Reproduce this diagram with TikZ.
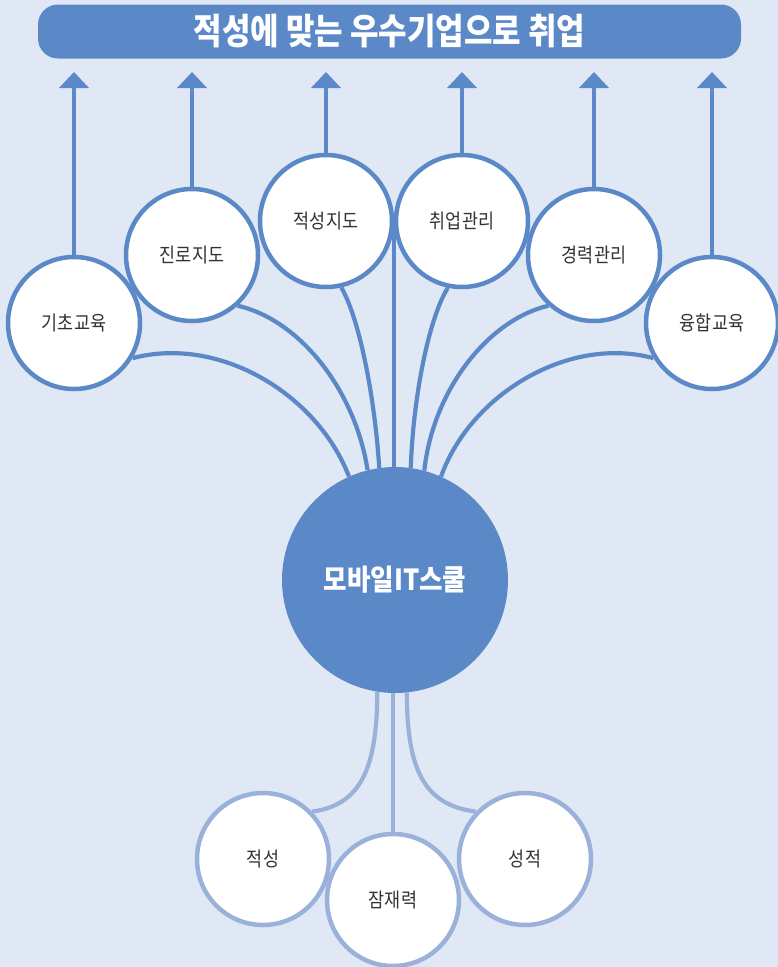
\documentclass[tikz,border=0pt]{standalone}
\usepackage{fontspec}
\usepackage{graphicx}
\newfontfamily\kr{Noto Sans CJK KR}
\usetikzlibrary{arrows.meta,backgrounds}
\definecolor{bgc}{HTML}{E1E8F5}
\definecolor{mainblue}{HTML}{5B88C6}
\definecolor{lightblue}{HTML}{9AB1DA}
\definecolor{txt}{HTML}{333333}
\begin{document}
\begin{tikzpicture}[x=1pt,y=-1pt,
  kcircle/.style={circle, draw=mainblue, line width=4.5pt, fill=white, minimum size=132pt, inner sep=0pt, font=\kr\fontsize{20}{20}\selectfont, text=txt},
  bcircle/.style={kcircle, draw=lightblue},
  conn/.style={draw=mainblue, line width=4.2pt},
  bconn/.style={draw=lightblue, line width=4.2pt},
  uparr/.style={conn, -{Triangle[length=16pt,width=29pt]}},
  bigcircle/.style={circle, fill=mainblue, minimum size=226pt, inner sep=0pt, text=white, font=\kr\bfseries\fontsize{29}{29}\selectfont},
  bannerbox/.style={fill=mainblue, rounded corners=20pt, minimum width=703pt, minimum height=54pt, inner sep=0pt, text=white, font=\kr\bfseries\fontsize{36}{36}\selectfont}
]
\useasboundingbox (0,0) rectangle (778,967);

% banner
\node[bannerbox] (banner) at (389.5,31.5) {\scalebox{0.86}[1]{적성에 맞는 우수기업으로 취업}};

% top circles
\node[kcircle] (k1) at (74,323) {\scalebox{0.87}[1]{기초교육}};
\node[kcircle] (k2) at (192,255) {\scalebox{0.87}[1]{진로지도}};
\node[kcircle] (k3) at (326,221) {\scalebox{0.87}[1]{적성지도}};
\node[kcircle] (k4) at (462,221) {\scalebox{0.87}[1]{취업관리}};
\node[kcircle] (k5) at (594,255) {\scalebox{0.87}[1]{경력관리}};
\node[kcircle] (k6) at (712,323) {\scalebox{0.87}[1]{융합교육}};

% central circle
\node[bigcircle] (big) at (395,580) {\scalebox{0.88}[1]{모바일IT스쿨}};

% bottom circles
\node[bcircle] (b1) at (263,859) {\scalebox{0.87}[1]{적성}};
\node[bcircle] (b2) at (393,900) {\scalebox{0.87}[1]{잠재력}};
\node[bcircle] (b3) at (525,859) {\scalebox{0.87}[1]{성적}};

% arrows to banner
\coordinate (top) at (0,72);
\draw[uparr] (k1.north) -- (k1.north |- top);
\draw[uparr] (k2.north) -- (k2.north |- top);
\draw[uparr] (k3.north) -- (k3.north |- top);
\draw[uparr] (k4.north) -- (k4.north |- top);
\draw[uparr] (k5.north) -- (k5.north |- top);
\draw[uparr] (k6.north) -- (k6.north |- top);

\coordinate (mid) at (394,221);

\begin{scope}[on background layer]
  \fill[bgc] (0,0) rectangle (778,967);
  % upper connectors
  \draw[conn] (k1.-31) .. controls (220,335) and (318,395) .. (big.114);
  \draw[conn] (k2.-48) .. controls (300,320) and (355,390) .. (big.104.6);
  \draw[conn] (k3.-77.6) .. controls (360,320) and (375,400) .. (big.98);
  \draw[conn] (mid) -- (mid |- big);
  \draw[conn] (k4.-102.4) .. controls (428,320) and (413,400) .. (big.82);
  \draw[conn] (k5.-132) .. controls (488,320) and (433,390) .. (big.75.4);
  \draw[conn] (k6.-149) .. controls (568,335) and (470,395) .. (big.66);
  % lower connectors
  \draw[bconn] (big.-99) .. controls (377,770) and (360,805) .. (b1.44);
  \draw[bconn] (b2 |- big) -- (b2);
  \draw[bconn] (big.-84) .. controls (407,770) and (424,805) .. (b3.136);
\end{scope}
\end{tikzpicture}
\end{document}
